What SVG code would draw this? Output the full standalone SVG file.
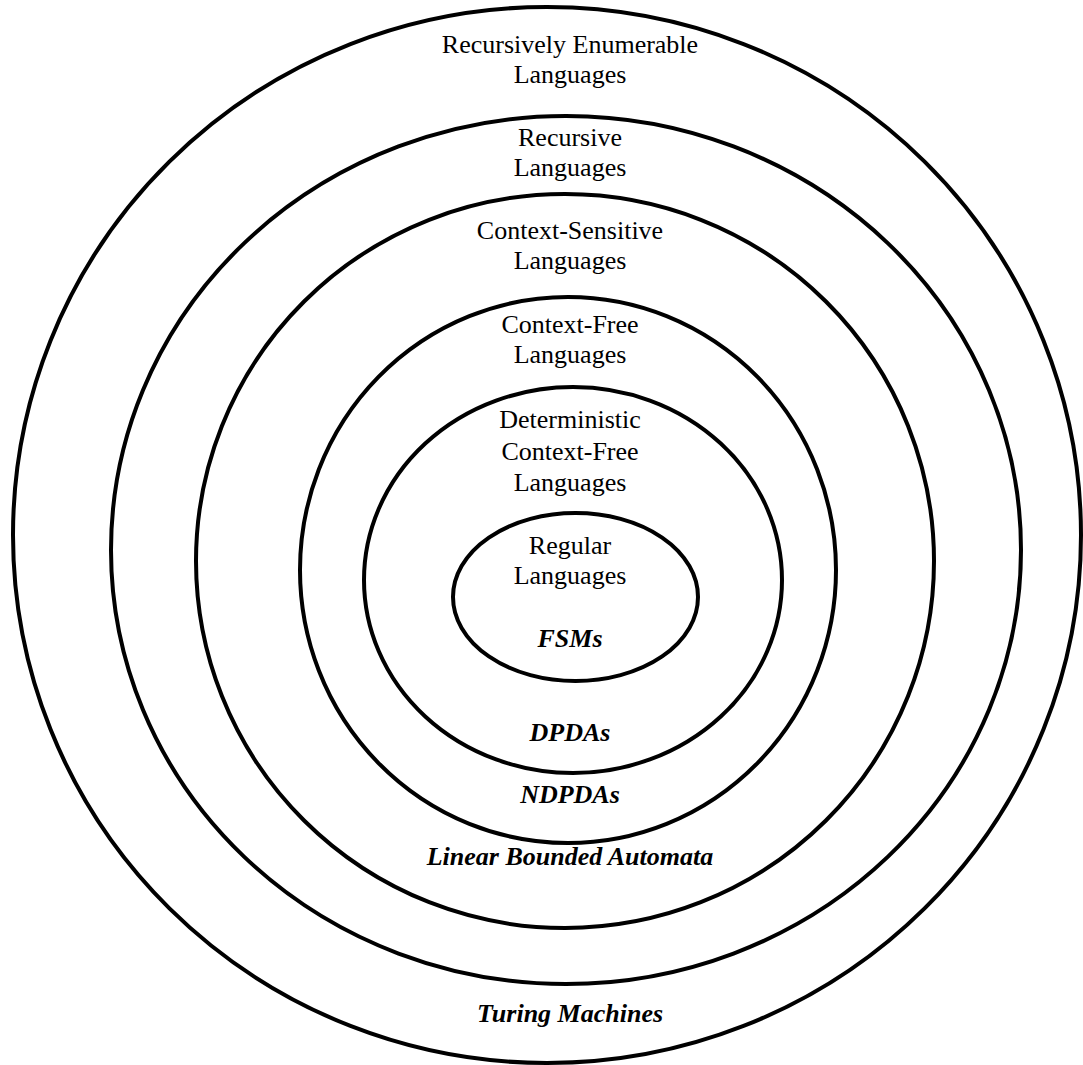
<svg xmlns="http://www.w3.org/2000/svg" width="1083" height="1065" viewBox="0 0 1083 1065">
<style>
.ring{fill:none;stroke:#000;stroke-width:4}
.t{font-family:"Liberation Serif","Times New Roman",serif;font-size:26px;text-anchor:middle;fill:#000}
.m{font-weight:bold;font-style:italic}
</style>
<rect width="1083" height="1065" fill="#fff"/>
<g id="re">
<ellipse class="ring" cx="547" cy="535" rx="534" ry="528"/>
<text class="t" x="570" y="53">Recursively Enumerable</text>
<text class="t" x="570" y="83">Languages</text>
<text class="t m" x="570" y="1022">Turing Machines</text>
</g>
<g id="rec">
<ellipse class="ring" cx="566" cy="550" rx="455" ry="434"/>
<text class="t" x="570" y="146">Recursive</text>
<text class="t" x="570" y="176">Languages</text>
</g>
<g id="cs">
<ellipse class="ring" cx="565" cy="561" rx="369" ry="367"/>
<text class="t" x="570" y="239">Context-Sensitive</text>
<text class="t" x="570" y="269">Languages</text>
<text class="t m" x="570" y="865">Linear Bounded Automata</text>
</g>
<g id="cf">
<ellipse class="ring" cx="568" cy="570" rx="268" ry="273"/>
<text class="t" x="570" y="333">Context-Free</text>
<text class="t" x="570" y="363">Languages</text>
<text class="t m" x="570" y="803">NDPDAs</text>
</g>
<g id="dcf">
<ellipse class="ring" cx="573" cy="580" rx="209" ry="193"/>
<text class="t" x="570" y="428">Deterministic</text>
<text class="t" x="570" y="460">Context-Free</text>
<text class="t" x="570" y="491">Languages</text>
<text class="t m" x="570" y="741">DPDAs</text>
</g>
<g id="reg">
<ellipse class="ring" cx="575.5" cy="597" rx="122.5" ry="84"/>
<text class="t" x="570" y="554">Regular</text>
<text class="t" x="570" y="584">Languages</text>
<text class="t m" x="570" y="647">FSMs</text>
</g>
<g id="connectors"></g>
</svg>
